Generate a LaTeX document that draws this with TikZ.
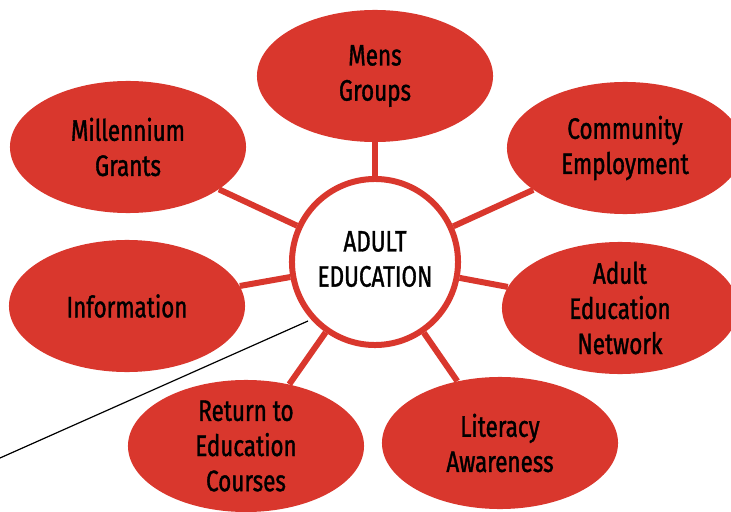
\documentclass[tikz,border=0pt]{standalone}
\usepackage{fontspec}
\setmainfont[FakeStretch=0.76,FakeBold=1.2]{Fira Sans}
\usetikzlibrary{shapes.geometric,backgrounds}
\definecolor{bubblered}{RGB}{217,55,45}

\begin{document}
\begin{tikzpicture}[x=0.025cm,y=-0.025cm,
  bubble/.style={ellipse,fill=bubblered,minimum width=5.9cm,minimum height=3.3cm,
    inner sep=0pt,align=center,font=\fontsize{21}{25}\selectfont},
  hub/.style={circle,draw=bubblered,line width=0.15cm,fill=white,minimum size=4.15cm,
    inner sep=0pt,align=center,font=\fontsize{21}{25}\selectfont},
  spoke/.style={bubblered,line width=0.15cm}]
\useasboundingbox (0,0) rectangle (731,512);
\clip (0,0) rectangle (731,512);

% HUB
  \node[hub] (hub) at (375,262) {\raisebox{2pt}{\begin{tabular}{@{}c@{}}ADULT\\EDUCATION\end{tabular}}};

% BUBBLES
  \node[bubble] (mens) at (375,76)  {Mens\\Groups};
  \node[bubble] (mill) at (128,147) {Millennium\\Grants};
  \node[bubble] (comm) at (625,148) {Community\\Employment};
  \node[bubble] (info) at (127,306) {Information};
  \node[bubble] (aen)  at (620,308) {Adult\\Education\\Network};
  \node[bubble] (ret)  at (246,446) {Return to\\Education\\Courses};
  \node[bubble] (lit)  at (500,443) {Literacy\\Awareness};

% SPOKES
\begin{scope}[on background layer]
  \foreach \b in {mens,mill,comm,info,aen,ret,lit}
    \draw[spoke] (hub) -- (\b);
\end{scope}

% pointer line
  \coordinate (tail) at (0,458);
  \coordinate (tip) at (308,321);
  \draw[black,line width=0.03cm] (tail) -- (tip);
\end{tikzpicture}
\end{document}
